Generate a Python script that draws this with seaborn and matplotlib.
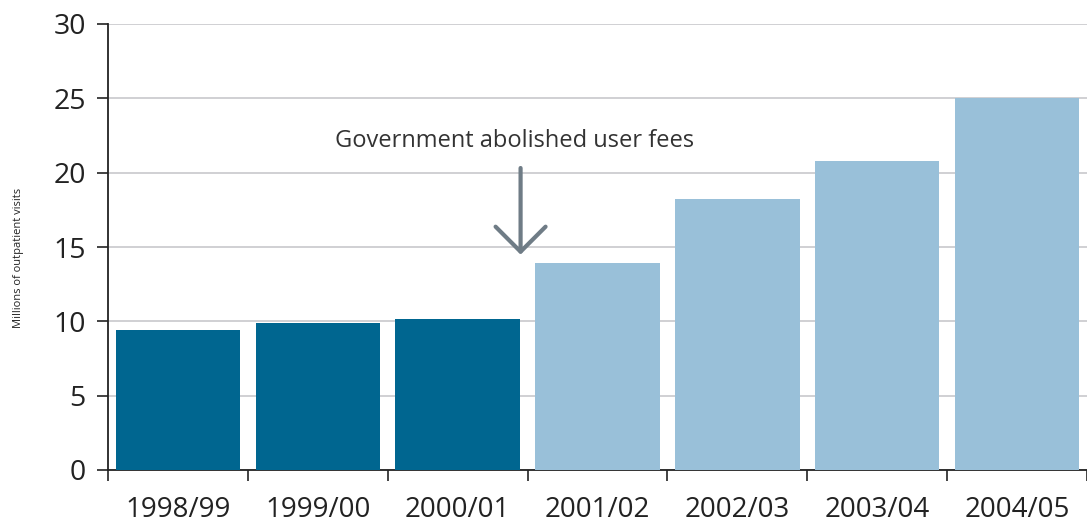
import matplotlib
matplotlib.use("Agg")
import matplotlib.pyplot as plt
import seaborn as sns
import pandas as pd

# ---------------------------------------------
# Data
# ---------------------------------------------
years = ["1998/99", "1999/00", "2000/01", "2001/02", "2002/03", "2003/04", "2004/05"]
visits = [9.4, 9.9, 10.15, 13.95, 18.2, 20.8, 25.0]
phase = ["before", "before", "before", "after", "after", "after", "after"]

df = pd.DataFrame({"year": years, "visits": visits, "phase": phase})

colors = {"before": "#006690", "after": "#99c0d9"}

# ---------------------------------------------
# Plot
# ---------------------------------------------
sns.set_theme(style="white")
plt.rcParams["font.family"] = ["Open Sans", "DejaVu Sans"]

fig = plt.figure(figsize=(10.87, 5.24), dpi=100)
ax = fig.add_axes([108 / 1087, 1 - 470 / 524, 979 / 1087, 446 / 524])

sns.barplot(data=df, x="year", y="visits", hue="phase", palette=colors,
            dodge=False, width=0.89, legend=False, saturation=1,
            edgecolor="none", linewidth=0, ax=ax, zorder=3)

ax.set_ylim(0, 30)
ax.set_xlim(-0.5, len(years) - 0.5)
ax.set_yticks(range(0, 31, 5))
ax.yaxis.grid(True, color="#c8c8cc", linewidth=1.2, zorder=0)
ax.set_axisbelow(True)

for s in ["top", "right"]:
    ax.spines[s].set_visible(False)
for s in ["left", "bottom"]:
    ax.spines[s].set_color("#222222")
    ax.spines[s].set_linewidth(1.3)

ax.tick_params(axis="y", which="major", direction="out", length=8, width=1.2,
               color="#222222", labelsize=20.5, labelcolor="#222222", pad=8, left=True)
ax.set_xticks([i - 0.5 for i in range(len(years) + 1)], minor=True)
ax.tick_params(axis="x", which="minor", direction="out", length=8, width=1.2,
               color="#222222", bottom=True)
ax.tick_params(axis="x", which="major", length=0, labelsize=20,
               labelcolor="#222222", pad=19)

ax.set_xlabel("")
ax.set_ylabel("Millions of outpatient visits", fontsize=8, color="#222222")
ax.yaxis.set_label_coords(-0.086, 0.475)

# annotation arrow
ax.annotate("", xy=(2.45, 14.3), xytext=(2.45, 20.5),
            arrowprops=dict(arrowstyle="->,head_length=1.5,head_width=1.5",
                            color="#6f7c86", lw=3))
ax.text(2.41, 22.1, "Government abolished user fees", ha="center", va="center",
        fontsize=17, color="#333333")

fig.savefig("out.png", dpi=100)
